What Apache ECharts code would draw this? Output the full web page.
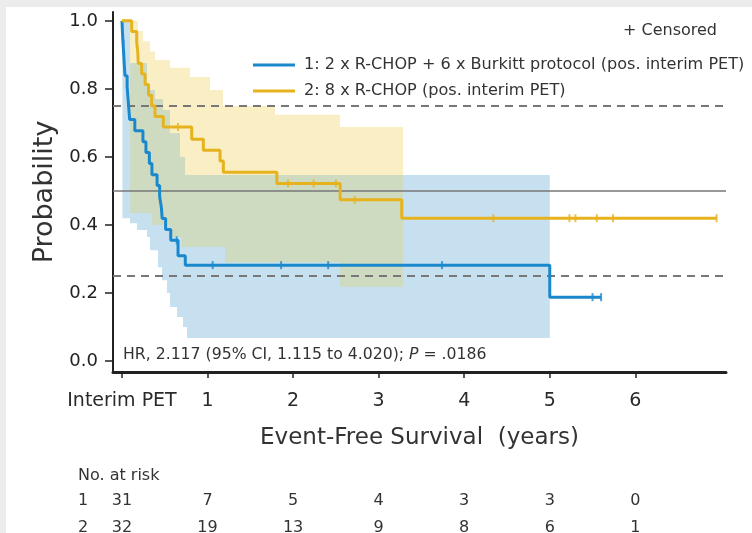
<!DOCTYPE html>
<html><head><meta charset="utf-8">
<script src="https://cdn.jsdelivr.net/npm/echarts@6/dist/echarts.min.js"></script>
<style>html,body{margin:0;padding:0;background:#fff}#c{width:752px;height:533px}</style>
</head><body><div id="c"></div>
<script>
// ---------- data ----------
const seriesNames = ['1: 2 x R-CHOP + 6 x Burkitt protocol (pos. interim PET)', '2: 8 x R-CHOP (pos. interim PET)'];
// Kaplan-Meier steps [years, probability]
const blueKM = [[0,1.0],[0.005,0.968],[0.012,0.935],[0.02,0.903],[0.027,0.871],[0.035,0.839],[0.06,0.806],[0.07,0.774],[0.08,0.742],[0.09,0.71],[0.15,0.677],[0.245,0.645],[0.28,0.613],[0.32,0.581],[0.35,0.548],[0.41,0.516],[0.44,0.484],[0.46,0.452],[0.47,0.419],[0.51,0.387],[0.57,0.355],[0.655,0.31],[0.74,0.282],[5.0,0.188],[5.6,0.188]];
const yellowKM = [[0,1.0],[0.113,0.969],[0.172,0.938],[0.185,0.906],[0.19,0.875],[0.23,0.844],[0.27,0.813],[0.31,0.781],[0.347,0.75],[0.386,0.719],[0.483,0.688],[0.815,0.652],[0.951,0.62],[1.146,0.588],[1.185,0.555],[1.81,0.522],[2.55,0.474],[3.27,0.42],[6.95,0.42]];
// censored observations [years, probability]
const blueCensored = [[0.015,0.935],[0.64,0.355],[1.06,0.282],[1.86,0.282],[2.41,0.282],[3.74,0.282],[5.5,0.188],[5.6,0.188]];
const yellowCensored = [[0.655,0.688],[1.94,0.522],[2.24,0.522],[2.5,0.522],[2.72,0.474],[4.34,0.42],[5.23,0.42],[5.3,0.42],[5.55,0.42],[5.74,0.42],[6.95,0.42]];
// confidence bands [years, lower, upper] (last row = end)
const blueBand = [[0.005,0.42,1.0],[0.094,0.405,0.876],[0.175,0.385,0.876],[0.292,0.365,0.797],[0.327,0.326,0.797],[0.386,0.326,0.77],[0.421,0.276,0.77],[0.468,0.238,0.77],[0.48,0.238,0.738],[0.526,0.2,0.738],[0.561,0.159,0.67],[0.643,0.13,0.67],[0.678,0.13,0.60],[0.713,0.10,0.60],[0.737,0.10,0.547],[0.76,0.068,0.547],[5.0,0.068,0.547]];
const yellowBand = [[0.094,0.435,1.0],[0.187,0.435,0.97],[0.246,0.435,0.94],[0.327,0.435,0.91],[0.351,0.40,0.91],[0.386,0.40,0.885],[0.55,0.365,0.885],[0.561,0.365,0.862],[0.702,0.335,0.862],[0.795,0.335,0.835],[1.029,0.335,0.797],[1.181,0.335,0.75],[1.205,0.29,0.75],[1.789,0.29,0.724],[2.55,0.218,0.688],[3.285,0.218,0.688]];
const refLevels = [0.75, 0.5, 0.25];
const xTicks = [0,1,2,3,4,5,6];
const xTickLabels = ['Interim PET','1','2','3','4','5','6'];
const yTicks = [0,0.2,0.4,0.6,0.8,1.0];
const riskRowLabels = ['1','2'];
const riskRows = [[31,7,5,4,3,3,0],[32,19,13,9,8,6,1]];
const hrText = 'HR, 2.117 (95% CI, 1.115 to 4.020); ';
const pText = '.0186';

// ---------- styling ----------
const FONT = 'DejaVu Sans';
const BLUE = '#1a88cc', YEL = '#e6b31e';
const TXT = '#333';

// overlap of the two bands (derived from the band arrays)
function bandAt(rows, t) {
  if (t < rows[0][0] || t >= rows[rows.length - 1][0]) return null;
  let r = rows[0];
  for (let i = 0; i < rows.length - 1; i++) if (rows[i][0] <= t) r = rows[i];
  return r;
}
function overlapRows(a, b) {
  const start = Math.max(a[0][0], b[0][0]);
  const end = Math.min(a[a.length - 1][0], b[b.length - 1][0]);
  const ts = Array.from(new Set(a.map(r => r[0]).concat(b.map(r => r[0]))))
    .filter(t => t >= start && t < end).sort((x, y) => x - y);
  const out = ts.map(t => {
    const ra = bandAt(a, t), rb = bandAt(b, t);
    const lo = Math.max(ra[1], rb[1]);
    return [t, lo, Math.max(lo, Math.min(ra[2], rb[2]))];
  });
  out.push([end, out[out.length - 1][1], out[out.length - 1][2]]);
  return out;
}
const overlapBand = overlapRows(blueBand, yellowBand);

function bandRenderer(rows, fill) {
  return function (params, api) {
    if (params.dataIndex !== 0) return null;
    const top = [], bot = [];
    for (let i = 0; i < rows.length - 1; i++) {
      const t0 = rows[i][0], t1 = rows[i + 1][0];
      top.push(api.coord([t0, rows[i][2]]), api.coord([t1, rows[i][2]]));
      bot.push(api.coord([t0, rows[i][1]]), api.coord([t1, rows[i][1]]));
    }
    return { type: 'polygon', shape: { points: top.concat(bot.reverse()) }, style: { fill: fill }, silent: true };
  };
}

const chart = echarts.init(document.getElementById('c'), null, { renderer: 'canvas' });
const option = {
  animation: false,
  backgroundColor: '#fff',
  textStyle: { fontFamily: FONT },
  grid: { left: 113, right: 26, top: 12, bottom: 161 },
  xAxis: {
    type: 'value', min: -0.105, max: 7.06,
    splitLine: { show: false },
    axisLine: { onZero: false, lineStyle: { color: '#222', width: 3 } },
    axisTick: { customValues: xTicks, length: 6, lineStyle: { color: '#222', width: 1.5 } },
    axisLabel: { customValues: xTicks, margin: 20, fontSize: 19, color: '#2a2a2a', fontFamily: FONT,
      formatter: v => xTickLabels[xTicks.indexOf(Math.round(v))] },
    name: 'Event-Free Survival  (years)', nameLocation: 'middle', nameGap: 55,
    nameTextStyle: { fontSize: 23, color: TXT, fontFamily: FONT }
  },
  yAxis: {
    type: 'value', min: -0.032, max: 1.026,
    splitLine: { show: false },
    axisLine: { show: true, onZero: false, lineStyle: { color: '#222', width: 2 } },
    axisTick: { show: true, customValues: yTicks, length: 8, lineStyle: { color: '#222', width: 1.5 } },
    axisLabel: { customValues: yTicks, margin: 15, fontSize: 18, color: '#222', fontFamily: FONT,
      formatter: v => v.toFixed(1) },
    name: 'Probability', nameLocation: 'middle', nameGap: 55,
    nameTextStyle: { fontSize: 27, color: TXT, fontFamily: FONT }
  },
  legend: {
    orient: 'vertical', left: 248, top: 52, itemWidth: 42, itemHeight: 3, itemGap: 10,
    textStyle: { fontSize: 16.1, color: TXT, fontFamily: FONT, padding: [0, 0, 0, 4] },
    data: [{ name: seriesNames[0], icon: 'rect' }, { name: seriesNames[1], icon: 'rect' }],
    selectedMode: false
  },
  series: [
    { type: 'custom', name: 'band2', z: 1, data: yellowBand, encode: { x: 0, y: [1, 2] },
      renderItem: bandRenderer(yellowBand, 'rgb(249,238,196)') },
    { type: 'custom', name: 'band1', z: 1, data: blueBand, encode: { x: 0, y: [1, 2] },
      renderItem: bandRenderer(blueBand, 'rgb(198,224,240)') },
    { type: 'custom', name: 'bandOverlap', z: 1, data: overlapBand, encode: { x: 0, y: [1, 2] },
      renderItem: bandRenderer(overlapBand, 'rgb(206,219,193)') },
    { type: 'line', name: 'refs', z: 3, data: [], silent: true,
      markLine: { silent: true, symbol: ['none', 'none'], label: { show: false }, animation: false,
        data: refLevels.map(v => ({ yAxis: v, lineStyle: v === 0.5 ? { type: 'solid', color: '#777', width: 1.5 } : { type: [8, 6], color: '#777', width: 2 } })) } },
    { type: 'line', name: seriesNames[0], z: 5, step: 'end', data: blueKM, showSymbol: false, symbol: 'none',
      lineStyle: { color: BLUE, width: 3 }, itemStyle: { color: BLUE } },
    { type: 'line', name: seriesNames[1], z: 5, step: 'end', data: yellowKM, showSymbol: false, symbol: 'none',
      lineStyle: { color: YEL, width: 3 }, itemStyle: { color: YEL } },
    { type: 'scatter', name: 'c1', z: 6, data: blueCensored, symbol: 'rect', symbolSize: [2, 8], itemStyle: { color: BLUE }, silent: true },
    { type: 'scatter', name: 'c2', z: 6, data: yellowCensored, symbol: 'rect', symbolSize: [2, 8], itemStyle: { color: YEL }, silent: true }
  ]
};
chart.setOption(option);

// graphic overlay: frame strips, texts, at-risk table
const g = [
  { type: 'rect', shape: { x: 0, y: 0, width: 752, height: 7 }, style: { fill: '#ececec' }, z: 10 },
  { type: 'rect', shape: { x: 0, y: 0, width: 6, height: 533 }, style: { fill: '#ececec' }, z: 10 },
  { type: 'text', x: 717, y: 31, z: 10, style: { text: '+ Censored', fontSize: 16, fontFamily: FONT, fill: TXT, align: 'right', verticalAlign: 'middle' } },
  { type: 'text', x: 123, y: 355, z: 10, style: {
      text: '{a|' + hrText + '}{b|P}{a| = ' + pText + '}', verticalAlign: 'middle',
      rich: { a: { fontSize: 15.7, fontFamily: FONT, fill: TXT }, b: { fontSize: 15.7, fontFamily: FONT, fill: TXT, fontStyle: 'italic' } } } },
  { type: 'text', x: 78, y: 476, z: 10, style: { text: 'No. at risk', fontSize: 16, fontFamily: FONT, fill: TXT, verticalAlign: 'middle' } }
];
const rowY = [501, 528];
riskRows.forEach((row, r) => {
  g.push({ type: 'text', x: 83, y: rowY[r], z: 10, style: { text: riskRowLabels[r], fontSize: 16, fontFamily: FONT, fill: TXT, align: 'center', verticalAlign: 'middle' } });
  row.forEach((n, i) => {
    const px = chart.convertToPixel({ xAxisIndex: 0 }, xTicks[i]);
    g.push({ type: 'text', x: px, y: rowY[r], z: 10, style: { text: String(n), fontSize: 16, fontFamily: FONT, fill: TXT, align: 'center', verticalAlign: 'middle' } });
  });
});
chart.setOption({ graphic: g });
</script></body></html>
